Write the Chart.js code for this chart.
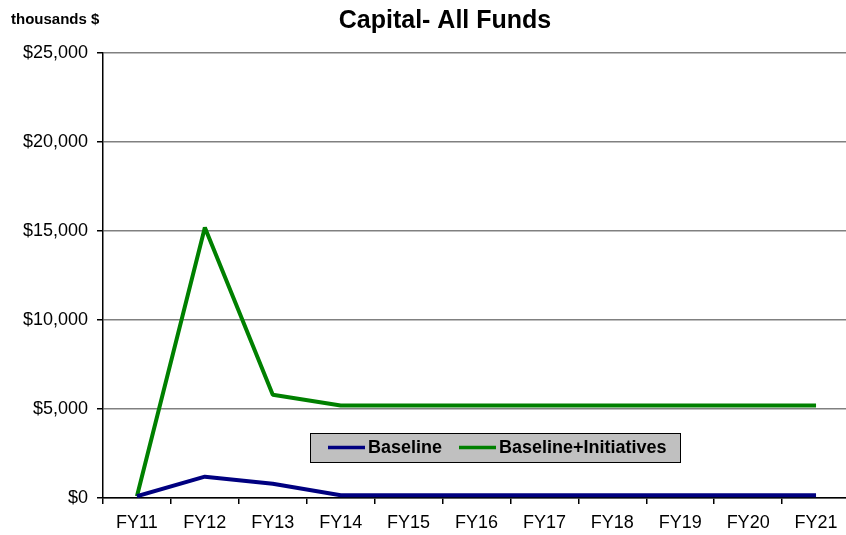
<!DOCTYPE html>
<html>
<head>
<meta charset="utf-8">
<script src="https://cdn.jsdelivr.net/npm/chart.js@4/dist/chart.umd.min.js"></script>
<style>
  html, body { margin: 0; padding: 0; background: #fff; overflow: hidden; }
  #wrap { width: 850px; height: 535px; position: relative; }
</style>
</head>
<body>
<div id="wrap"><canvas id="capitalChart"></canvas></div>
<script>
const years = ['FY11', 'FY12', 'FY13', 'FY14', 'FY15', 'FY16', 'FY17', 'FY18', 'FY19', 'FY20', 'FY21'];
const baseline = [100, 1200, 800, 150, 150, 150, 150, 150, 150, 150, 150];
const withInitiatives = [100, 15200, 5800, 5200, 5200, 5200, 5200, 5200, 5200, 5200, 5200];
const yTicks = [0, 5000, 10000, 15000, 20000, 25000];

const FONT = 'Arial, "Liberation Sans", sans-serif';

// title, unit label and the boxed legend inside the plot
const overlay = {
  id: 'overlay',
  afterDraw(chart) {
    const ctx = chart.ctx;
    ctx.save();
    ctx.fillStyle = '#000';
    ctx.textBaseline = 'middle';
    ctx.textAlign = 'left';
    ctx.font = 'bold 15px ' + FONT;
    ctx.fillText('thousands $', 11, 20);
    ctx.textAlign = 'center';
    ctx.font = 'bold 25px ' + FONT;
    ctx.fillText('Capital- All Funds', 445, 21);

    // legend box
    const bx = 310, by = 433, bw = 370, bh = 29;
    ctx.fillStyle = '#c0c0c0';
    ctx.fillRect(bx, by, bw, bh);
    ctx.strokeStyle = '#000';
    ctx.lineWidth = 1;
    ctx.strokeRect(bx + 0.5, by + 0.5, bw, bh);
    ctx.font = 'bold 18px ' + FONT;
    ctx.textAlign = 'left';
    const itemX = [328, 459];
    chart.data.datasets.forEach((ds, i) => {
      const x = itemX[i], y = by + bh / 2;
      ctx.strokeStyle = ds.borderColor;
      ctx.lineWidth = 3.5;
      ctx.beginPath();
      ctx.moveTo(x, y);
      ctx.lineTo(x + 37, y);
      ctx.stroke();
      ctx.fillStyle = '#000';
      ctx.fillText(ds.label, x + 40, y + 1);
    });
    ctx.restore();
  }
};

new Chart(document.getElementById('capitalChart'), {
  type: 'line',
  data: {
    labels: years,
    datasets: [
      { label: 'Baseline', data: baseline, borderColor: '#000080', borderWidth: 4, borderJoinStyle: 'bevel', pointRadius: 0, tension: 0, fill: false },
      { label: 'Baseline+Initiatives', data: withInitiatives, borderColor: '#008000', borderWidth: 4, borderJoinStyle: 'bevel', pointRadius: 0, tension: 0, fill: false },
    ],
  },
  options: {
    responsive: true,
    maintainAspectRatio: false,
    animation: false,
    layout: { padding: { top: 53, left: 0, right: 0, bottom: 0 } },
    plugins: { legend: { display: false }, title: { display: false }, tooltip: { enabled: false } },
    scales: {
      x: {
        offset: true,
        grid: { offset: true, drawOnChartArea: false, drawTicks: true, tickLength: 6, color: '#000', lineWidth: 1.5 },
        border: { color: '#000', width: 1.5 },
        ticks: { color: '#000', font: { family: FONT, size: 18 }, padding: 8, maxRotation: 0, autoSkip: false },
        afterFit(scale) { scale.height = 37; },
      },
      y: {
        min: 0,
        max: 25000,
        afterBuildTicks(scale) { scale.ticks = yTicks.map(v => ({ value: v })); },
        grid: { color: '#808080', lineWidth: 1.5, tickLength: 6, tickColor: '#000' },
        border: { color: '#000', width: 1.5 },
        ticks: {
          color: '#000',
          font: { family: FONT, size: 18 },
          padding: 9,
          callback: v => '$' + v.toLocaleString('en-US'),
        },
        afterFit(scale) { scale.width = 103; },
      },
    },
  },
  plugins: [overlay],
});
</script>
</body>
</html>
